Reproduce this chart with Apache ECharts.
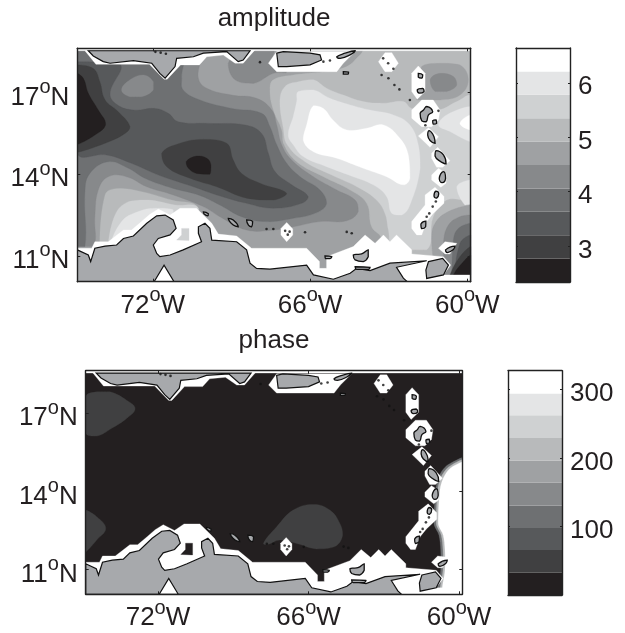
<!DOCTYPE html>
<html><head><meta charset="utf-8">
<style>html,body{margin:0;padding:0;background:#fff}#c{width:625px;height:633px}</style>
<script src="https://cdn.jsdelivr.net/npm/echarts@6/dist/echarts.min.js"></script>
</head><body><div id="c"></div>
<script>
// Grey levels of the colour bars, darkest first
const greys=['#231f20','#404041','#57595b','#6e7072','#87898b','#9fa1a3','#b8babb','#cfd1d2','#e4e5e6','#ffffff'];
const ampEdges=[2.34,2.77,3.2,3.63,4.06,4.49,4.92,5.35,5.78,6.21,6.64];
const phaseEdges=[0.6,33,66,98,131,164,196,229,262,294,327];
const ampTicks=[3,4,5,6];
const phaseTicks=[100,200,300];
const lonTicks=[-72,-66,-60];
const latTicks=[11,14,17];
// All outlines: flat lists of degrees West, degrees North
const a4main=[70.26,18.63,70.26,17.53,69.94,17.16,68.99,16.91,68.04,16.79,67.46,16.36,67.27,15.81,67.08,15.08,66.70,14.52,65.87,13.91,64.98,13.42,64.28,13.05,64.16,12.63,64.60,12.29,65.62,12.26,66.64,12.07,67.40,11.95,68.42,11.95,69.44,12.44,70.07,12.81,71.22,13.24,72.23,13.54,73.00,13.91,73.70,13.91,74.08,13.42,74.21,12.44,74.27,11.34,74.88,11.34,74.88,18.63];
const a4north=[69.12,18.08,68.86,17.47,68.16,17.34,67.40,17.71,66.89,17.77,67.40,18.20,67.40,18.63,68.42,18.63];
const a3main=[70.90,18.63,70.90,17.53,70.84,17.10,70.20,16.73,68.99,16.42,67.85,16.24,67.53,15.75,67.27,15.08,66.89,14.40,66.38,13.91,65.62,13.42,65.37,12.93,65.75,12.59,66.64,12.38,67.66,12.26,68.61,12.44,69.44,12.87,70.26,13.24,71.22,13.48,72.30,13.85,72.93,14.22,73.70,14.46,74.40,14.03,74.59,13.36,74.59,11.34,74.88,11.34,74.88,18.63];
const a4blob=[73.19,17.10,72.87,17.47,72.36,17.65,71.98,17.40,71.98,17.10,72.43,16.85,72.87,16.85];
const a2main=[74.88,18.14,73.25,18.04,73.63,16.98,73.38,16.57,72.74,16.36,71.92,16.42,71.41,16.24,71.03,15.93,69.88,15.87,68.48,15.81,67.85,15.50,67.59,14.77,67.34,14.10,66.70,13.61,66.07,13.18,66.32,12.93,67.40,12.75,68.42,12.93,69.56,13.24,70.45,13.54,71.73,13.95,72.81,14.40,73.76,14.71,74.88,14.77];
const a1west=[74.88,18.02,74.27,17.89,74.02,17.40,73.82,16.73,73.32,16.30,72.87,15.75,73.06,15.50,73.82,15.14,74.88,14.81];
const a0west=[74.88,17.71,74.65,17.53,74.46,16.98,74.08,16.36,73.80,15.84,74.21,15.44,74.88,15.10];
const a1mid=[71.66,14.77,70.96,15.14,70.07,15.28,69.18,15.14,68.93,14.52,68.61,14.03,67.91,13.67,66.89,13.30,67.40,13.05,68.42,13.12,69.56,13.54,70.58,13.85,71.47,14.28];
const a0mid=[70.73,14.46,70.33,14.67,69.94,14.59,69.78,14.34,69.82,14.00,70.33,14.03,70.64,14.22];
const a6sw=[74.02,11.34,73.82,13.24,73.32,13.48,72.42,13.36,71.28,13.05,70.26,12.75,70.26,11.34];
const a7sw=[73.70,11.34,73.44,12.50,72.93,12.99,72.17,13.05,71.15,12.87,70.26,12.75,70.26,11.34];
const a8sw=[73.63,11.34,73.19,12.26,72.55,12.63,71.92,12.75,71.22,12.69,71.22,11.34];
const a6east=[67.53,17.10,67.40,17.47,66.64,17.65,65.49,17.77,64.60,17.96,64.09,18.39,63.84,18.63,59.87,18.63,59.87,10.05,63.01,10.05,63.27,11.64,63.65,12.07,63.84,12.93,64.47,13.42,65.49,13.91,66.51,14.46,66.99,15.08,67.08,15.63,67.40,16.36];
const a7east=[66.96,17.22,66.45,17.40,65.87,17.47,65.37,17.16,64.73,16.91,63.97,16.67,63.20,16.61,62.44,16.67,62.12,16.42,61.10,16.36,60.40,16.67,59.87,16.85,59.87,13.18,60.79,13.05,61.30,12.44,61.55,11.22,62.82,11.22,63.01,11.95,63.14,12.56,63.46,13.05,64.09,13.48,65.17,13.97,66.19,14.46,66.87,15.08,67.02,15.69,67.15,16.67];
const a8east=[66.45,17.04,65.87,17.10,65.24,16.79,64.47,16.55,63.71,16.36,62.82,16.18,62.19,15.81,61.87,15.08,61.80,14.22,62.19,12.87,62.50,12.50,62.88,12.56,63.08,13.18,63.59,13.61,64.35,13.91,65.37,14.28,66.26,14.65,66.64,15.08,66.83,15.44,66.64,16.12,66.51,16.67];
const a9east=[65.87,16.52,65.49,16.42,65.11,15.98,64.60,15.63,63.84,15.69,63.20,15.81,62.57,15.32,62.25,14.71,62.19,13.85,62.44,13.61,63.08,13.91,63.97,14.22,64.98,14.59,65.87,14.83,66.26,15.26,66.13,15.81];
const a8lobe=[61.10,15.81,60.79,16.18,59.87,16.49,59.87,15.20,60.66,15.57];
const a9lobe=[60.28,15.87,59.87,16.18,59.87,15.63];
const a8patch=[60.40,13.54,59.87,13.79,59.87,12.93,60.09,12.87];
const a5ne=[61.74,17.96,61.04,18.08,60.28,18.02,59.96,17.47,60.28,16.91,61.04,16.73,61.93,16.73];
const a4ne=[61.42,17.47,61.04,17.71,60.53,17.59,60.40,17.28,60.79,17.04,61.23,17.04];
const a5se=[61.30,10.73,61.36,11.64,61.23,12.20,60.72,12.63,59.87,12.87,59.87,10.05,61.30,10.05];
const a4se=[60.91,10.05,60.91,11.46,60.72,12.13,60.28,12.44,59.87,12.50,59.87,10.05];
const a3se=[60.59,10.05,60.53,11.58,60.34,12.01,59.87,12.20,59.87,10.05];
const a2se=[60.47,10.05,60.28,11.46,59.87,11.77,59.87,10.05];
const a1se=[60.66,10.05,60.66,10.30,60.28,10.97,59.87,11.34,59.87,10.05];
const a0se=[60.53,10.05,60.53,10.30,60.09,10.85,59.87,11.03,59.87,10.05];
const p1nw=[74.88,17.63,74.44,17.82,73.91,17.82,73.25,17.50,72.91,17.18,73.25,16.80,73.84,16.42,74.44,16.12,74.88,16.23];
const p1w=[74.88,13.28,74.44,13.03,74.08,12.58,74.44,12.13,74.88,11.68];
const p1s=[67.80,12.00,67.27,12.64,66.61,13.28,65.81,13.50,65.15,13.28,64.75,12.77,64.64,12.32,64.95,11.88,65.68,11.79,66.47,12.00,67.14,12.13,67.60,11.97];
const pFront3=[59.87,15.30,60.50,14.98,60.80,14.58,60.93,14.05,61.00,12.77,60.80,12.32,60.73,11.75,60.73,10.98,60.80,10.05,59.87,10.05];
const pFront6=[59.87,15.22,60.42,14.93,60.72,14.54,60.85,14.05,60.91,12.77,60.71,12.32,60.64,11.75,60.64,10.98,60.71,10.05,59.87,10.05];
const pFront9=[59.87,15.14,60.36,14.88,60.63,14.50,60.76,14.05,60.83,12.77,60.63,12.32,60.56,11.75,60.56,10.98,60.63,10.05,59.87,10.05];
const maskSouth=[74.88,11.28,74.33,11.28,74.21,11.52,73.70,11.52,73.12,11.95,72.81,11.95,72.43,12.26,72.11,12.53,71.79,12.72,71.34,12.50,70.96,12.75,70.33,12.75,69.75,12.20,69.50,11.80,68.80,11.73,68.23,11.28,66.13,11.28,65.64,10.79,65.64,10.54,65.37,10.54,65.37,10.97,64.35,11.34,63.90,11.77,63.52,11.46,63.20,11.77,62.95,11.52,62.70,11.77,62.12,11.22,62.12,11.07,60.91,10.97,60.63,10.66,60.91,10.30,59.87,10.30,59.87,10.05,74.88,10.05];
const maskTop=[74.88,18.63,59.87,18.63,59.87,18.54,74.88,18.54];
const maskNW=[74.59,18.54,74.17,18.04,72.13,18.04,71.57,17.49,71.45,17.49,70.94,18.02,70.22,18.02,69.94,18.32,69.31,18.38,68.86,18.08,68.55,18.08,68.10,18.57];
const maskPR=[67.59,18.08,67.27,18.51,64.28,18.51,64.73,18.08,64.98,17.77,67.27,17.77];
const hex1=[63.14,18.47,62.88,18.47,62.63,18.08,62.88,17.77,63.14,17.77,63.39,18.14];
const hex2=[61.87,17.98,61.61,17.71,61.61,17.04,61.91,16.76,62.12,17.04,62.12,17.71];
const hex3=[61.74,16.73,61.30,16.73,61.04,16.36,61.10,15.99,61.36,15.75,61.74,15.75,62.12,16.06,62.12,16.36];
const hex4=[61.48,15.71,61.10,15.38,61.42,14.99,61.87,15.41];
const hex5=[61.13,14.99,60.66,14.50,60.94,14.26,61.17,14.26,61.36,14.59,61.36,14.77];
const hex6=[61.10,14.22,60.81,14.03,60.81,13.67,61.01,13.52,61.36,13.79,61.36,13.97];
const hex7=[61.23,13.52,60.89,13.18,60.89,12.93,61.30,12.56,61.55,12.26,61.74,11.77,61.93,11.77,62.12,12.01,62.12,12.26,61.61,12.87,61.61,13.24];
const hex8=[60.85,11.52,60.40,11.46,60.66,11.07,60.85,11.07,61.10,11.28];
const hex9=[66.89,12.23,66.66,11.99,66.66,11.77,66.89,11.52,67.11,11.77,67.11,12.01];
const gapSquare=[71.09,11.58,70.90,11.77,70.90,12.01,70.62,12.01,70.62,11.56];
const landNorth=[74.46,18.54,74.27,18.35,73.89,18.14,73.63,18.08,72.74,18.18,72.04,18.08,71.73,17.71,71.53,17.53,71.15,17.96,71.09,18.26,70.45,18.32,70.07,18.45,69.18,18.51,68.74,18.14,68.55,18.20,68.29,18.54];
const landPR=[67.27,18.45,67.02,18.51,66.00,18.45,65.62,18.39,65.56,18.20,66.00,18.02,66.89,17.96,67.21,17.96];
const landSouth=[74.88,11.22,74.46,11.03,74.37,10.79,74.21,11.28,73.82,11.36,73.38,11.40,73.12,11.64,72.74,11.73,72.23,12.20,71.85,12.47,71.53,12.50,71.22,12.32,71.11,12.01,71.34,11.77,71.79,11.64,71.98,11.40,71.85,11.09,71.73,10.97,71.34,11.03,70.84,11.22,70.14,11.52,70.26,11.83,70.26,12.07,70.01,12.20,69.82,12.01,69.75,11.58,68.80,11.52,68.42,11.22,68.29,10.73,68.04,10.54,67.53,10.51,66.13,10.66,65.87,10.30,65.11,10.14,64.47,10.36,64.22,10.54,63.71,10.46,62.95,10.73,61.55,10.82,62.70,10.58,62.44,10.18,62.29,10.05,74.88,10.05];
const lakeMaracaibo=[71.95,10.05,71.57,10.66,71.19,10.05];
const landTrinidad=[61.48,10.79,60.94,10.91,60.72,10.66,60.91,10.30,61.55,10.17,61.58,10.48];
const isAruba=[70.07,12.62,69.88,12.55,69.90,12.47,70.05,12.55];
const isCuracao=[69.12,12.38,68.93,12.32,68.74,12.07,68.93,12.13];
const isBonaire=[68.42,12.32,68.19,12.26,68.23,12.07,68.35,12.13];
const isTortuga=[65.43,11.00,65.17,10.97,65.24,10.90,65.41,10.90];
const isMargarita=[64.35,11.03,64.03,11.07,63.78,11.22,63.78,10.97,63.97,10.79,64.28,10.85];
const isAraya=[64.28,10.60,63.71,10.58,63.78,10.50,64.22,10.50];
const isGuadeloupe=[61.80,16.24,61.67,16.36,61.55,16.49,61.32,16.30,61.48,16.18,61.57,15.93,61.74,15.97];
const isMarie=[61.32,15.97,61.19,16.00,61.17,15.87,61.30,15.84];
const isDominica=[61.45,15.60,61.27,15.38,61.23,15.14,61.42,15.24,61.51,15.44];
const isMartinique=[61.19,14.87,60.91,14.71,60.81,14.38,61.07,14.50,61.23,14.67];
const isLucia=[60.91,14.10,60.83,13.85,60.96,13.69,61.07,13.85];
const isVincent=[61.20,13.38,61.09,13.30,61.17,13.12,61.27,13.20];
const isGrenada=[61.77,12.17,61.58,12.28,61.59,12.07,61.74,12.00];
const isTobago=[60.83,11.22,60.47,11.36,60.53,11.23,60.76,11.12];
const isBarbuda=[61.87,17.71,61.70,17.65,61.74,17.53,61.87,17.57];
const isAntigua=[61.91,17.10,61.70,17.16,61.65,17.04,61.83,16.98];
const isVirgin=[64.98,18.32,64.66,18.45,64.28,18.54,64.47,18.39,64.85,18.26];
const isCroix=[64.73,17.77,64.53,17.75,64.55,17.68,64.73,17.68];
const islets=[67.91,18.12,71.9,18.5,71.7,18.47,71.5,18.43,63.21,18.26,63.02,18.08,62.82,17.88,63.27,17.65,63.01,17.53,62.78,17.28,62.59,17.12,62.19,16.73,61.20,13.0,61.32,12.81,61.45,12.56,61.55,12.44,65.49,18.14,65.24,18.18,67.66,11.99,67.40,11.99,66.19,11.87,64.60,11.88,64.41,11.83,66.95,11.92,66.78,11.89,66.85,11.78,61.1,16.33,61.6,15.8];

const pairs=a=>{const r=[];for(let i=0;i<a.length;i+=2)r.push([-a[i],a[i+1]]);return r;};
function contour(level,a){return {fill:greys[level],pts:pairs(a),smooth:0.42};}
const ampField=[
 {fill:greys[5],pts:pairs([74.88,18.63,59.87,18.63,59.87,10.05,74.88,10.05])},
 contour(6,a6east),contour(7,a7east),contour(8,a8east),contour(9,a9east),contour(8,a8lobe),contour(9,a9lobe),contour(8,a8patch),
 contour(4,a4main),contour(4,a4north),contour(3,a3main),contour(4,a4blob),contour(2,a2main),contour(1,a1west),contour(0,a0west),contour(1,a1mid),contour(0,a0mid),
 contour(6,a6sw),contour(7,a7sw),contour(8,a8sw),
 contour(5,a5ne),contour(4,a4ne),contour(5,a5se),contour(4,a4se),contour(3,a3se),contour(2,a2se),contour(1,a1se),contour(0,a0se)
];
const phaseField=[
 {fill:greys[0],pts:pairs([74.88,18.63,59.87,18.63,59.87,10.05,74.88,10.05])},
 contour(1,p1nw),contour(1,p1w),contour(1,p1s),
 {fill:greys[3],pts:pairs(pFront3),smooth:0.3},{fill:greys[6],pts:pairs(pFront6),smooth:0.3},{fill:greys[9],pts:pairs(pFront9),smooth:0.3}
];
const white=a=>({fill:'#fff',pts:pairs(a)});
const masks=[maskSouth,maskTop,maskNW,maskPR,hex1,hex2,hex3,hex4,hex5,hex6,hex7,hex8,hex9].map(white);
const bigLand=[landNorth,landPR,landSouth,landTrinidad].map(a=>({fill:'#a7a9ac',stroke:'#111',lw:1.2,pts:pairs(a)}));
const smallLand=[isAruba,isCuracao,isBonaire,isTortuga,isMargarita,isAraya,isGuadeloupe,isMarie,isDominica,isMartinique,isLucia,isVincent,isGrenada,isTobago,isBarbuda,isAntigua,isVirgin,isCroix]
 .map(a=>({fill:'#a7a9ac',stroke:'#111',lw:1.3,smooth:0.5,pts:pairs(a)}));
const land=[...bigLand,...smallLand,{fill:'#fff',stroke:'#111',lw:1.2,pts:pairs(lakeMaracaibo)}];
const dots=pairs(islets);
const ampLayersAll=[...ampField,...masks,{fill:greys[7],pts:pairs(gapSquare)},...land];
const phaseLayersAll=[...phaseField,...masks,{fill:greys[0],pts:pairs(gapSquare)},...land];

const ink='#231f20',FONT='"Liberation Sans",Arial,sans-serif',FS=26;
const rich={n:{fontSize:FS,fontFamily:FONT,color:ink},s:{fontSize:20,fontFamily:FONT,color:ink,padding:[0,0,20,0]}};
const barRich={b:{fontSize:FS,fontFamily:FONT,color:ink,padding:[9,0,0,0]}};
const deg=(v,h)=>`{n|${Math.abs(v)}}{s|o}{n|${h}}`;
const limits={x:[-74.88,-59.87],y:[10.05,18.63]};
const grids=[
 {left:77.3,top:48.3,width:393.4,height:233.4},
 {left:516,top:48,width:54,height:234},
 {left:85.7,top:370.7,width:376.6,height:223.6},
 {left:508,top:370.7,width:54,height:224.3}
];
const xAxes=[],yAxes=[],series=[];
const line={show:true,onZero:false,lineStyle:{color:'#222',width:1.4}};
function addAxes(g,x0,x1,y0,y1,xOpt,yOpt,yOpp){
 const xi=xAxes.length,yi=yAxes.length;
 xAxes.push(Object.assign({gridIndex:g,type:'value',min:x0,max:x1,position:'bottom',axisLine:line,splitLine:{show:false},z:20},xOpt),
  {gridIndex:g,type:'value',min:x0,max:x1,position:'top',axisLine:line,splitLine:{show:false},axisLabel:{show:false},axisTick:xOpt.axisTick,z:20});
 yAxes.push(Object.assign({gridIndex:g,type:'value',min:y0,max:y1,position:'left',axisLine:line,splitLine:{show:false},z:20},yOpt),
  Object.assign({gridIndex:g,type:'value',min:y0,max:y1,position:'right',axisLine:line,splitLine:{show:false},z:20},yOpp));
 return [xi,yi];
}
function mapPanel(g,layers){
 const xt={show:true,inside:true,length:3,customValues:lonTicks,lineStyle:{color:'#222',width:1}};
 const yt={show:true,inside:true,length:3,customValues:latTicks,lineStyle:{color:'#222',width:1}};
 const [xi,yi]=addAxes(g,limits.x[0],limits.x[1],limits.y[0],limits.y[1],
  {axisTick:xt,axisLabel:{customValues:lonTicks,margin:4,formatter:v=>deg(v,'W'),rich}},
  {axisTick:yt,axisLabel:{customValues:latTicks,margin:8,padding:[10,0,0,0],formatter:v=>deg(v,'N'),rich}},
  {axisTick:yt,axisLabel:{show:false}});
 series.push({type:'custom',coordinateSystem:'cartesian2d',xAxisIndex:xi,yAxisIndex:yi,silent:true,animation:false,clip:true,
  data:layers.map((_,i)=>[i]),encode:{x:0,y:0},
  renderItem(p,api){const L=layers[api.value(0)];const P=L.pts.map(c=>api.coord(c));
   return {type:'polygon',shape:{points:P,smooth:L.smooth||0,smoothConstraint:[P[0],P[0]]},
    style:{fill:L.fill,stroke:L.stroke||L.fill,lineWidth:L.lw||0.3}};}});
 series.push({type:'scatter',xAxisIndex:xi,yAxisIndex:yi,data:dots,symbolSize:2.6,silent:true,animation:false,itemStyle:{color:'#111'}});
}
function barPanel(g,edges,ticks){
 const t={show:true,inside:true,length:2,customValues:ticks,lineStyle:{color:'#222',width:1}};
 const [xi,yi]=addAxes(g,0,1,edges[0],edges[edges.length-1],
  {axisTick:{show:false},axisLabel:{show:false}},
  {axisTick:t,axisLabel:{show:false}},
  {axisTick:t,axisLabel:{customValues:ticks,margin:8,formatter:v=>`{b|${v}}`,rich:barRich}});
 series.push({type:'custom',coordinateSystem:'cartesian2d',xAxisIndex:xi,yAxisIndex:yi,silent:true,animation:false,
  data:greys.map((_,i)=>[i]),encode:{x:0,y:0},
  renderItem(p,api){const i=api.value(0),a=api.coord([0,edges[i]]),b=api.coord([1,edges[i+1]]);
   return {type:'rect',shape:{x:a[0],y:b[1],width:b[0]-a[0],height:a[1]-b[1]},style:{fill:greys[i]}};}});
}
mapPanel(0,ampLayersAll);
barPanel(1,ampEdges,ampTicks);
mapPanel(2,phaseLayersAll);
barPanel(3,phaseEdges,phaseTicks);
const chart=echarts.init(document.getElementById('c'),null,{renderer:'canvas'});
chart.setOption({animation:false,backgroundColor:'#fff',
 title:[{text:'amplitude',left:269,top:1,textAlign:'center',textStyle:{fontSize:FS,fontWeight:'normal',fontFamily:FONT,color:ink}},
        {text:'phase',left:269,top:323,textAlign:'center',textStyle:{fontSize:FS,fontWeight:'normal',fontFamily:FONT,color:ink}}],
 grid:grids,xAxis:xAxes,yAxis:yAxes,series});
</script></body></html>
